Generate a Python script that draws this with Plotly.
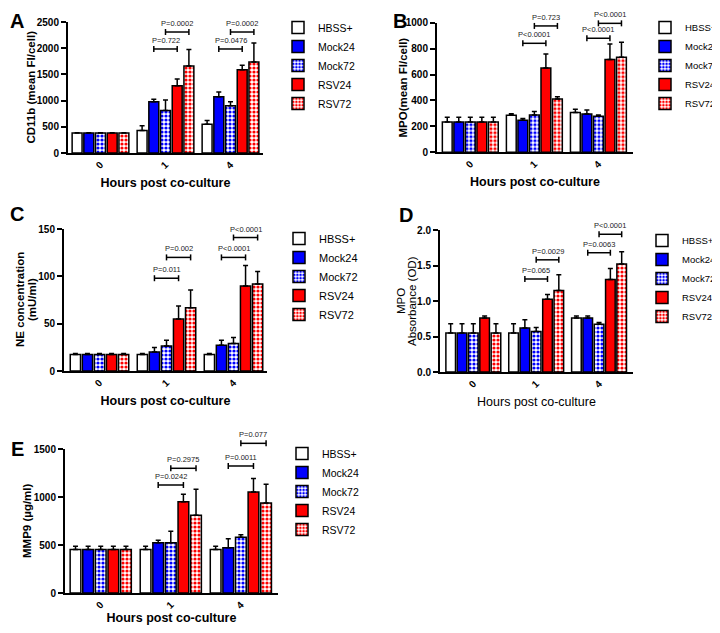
import plotly.graph_objects as go

# The page body adds an 8px margin, so the figure is 8px smaller and all
# reference pixel positions are shifted by that offset.
OFF = 8
FW, FH = 720 - OFF, 633 - OFF

# ---------------- data ----------------
GROUPS = ["0", "1", "4"]
SERIES = ["HBSS+", "Mock24", "Mock72", "RSV24", "RSV72"]

# Panel A: CD11b (mean FI/cell); rows follow SERIES, columns follow GROUPS
A_MEAN = [[380, 430, 550], [380, 980, 1075], [380, 810, 900], [380, 1285, 1590], [380, 1658, 1737]]
A_ERR = [[8, 90, 70], [8, 45, 90], [8, 200, 80], [8, 125, 87], [8, 317, 363]]
A_P = ["P=0.722", "P=0.0002", "P=0.0476", "P=0.0002"]
A_LEVELS = [1985, 2309, 1985, 2309]

# Panel B: MPO (mean FI/cell)
B_MEAN = [[234, 285, 308], [234, 247, 296], [234, 288, 278], [234, 650, 717], [234, 411, 733]]
B_ERR = [[36, 13, 24], [36, 13, 30], [36, 26, 10], [36, 108, 118], [36, 18, 116]]
B_P = ["P<0.0001", "P=0.723", "P<0.0001", "P<0.0001"]
B_LEVELS = [841, 975, 880, 995]

# Panel C: NE concentration (mU/ml)
C_MEAN = [[17.3, 17.3, 17.3], [17.3, 20.2, 27.2], [17.3, 26.5, 29.0], [17.3, 54.8, 89.8], [17.3, 66.9, 92.0]]
C_ERR = [[1.2, 1.1, 1.1], [1.2, 4.6, 5.3], [1.2, 6.0, 6.4], [1.2, 13.8, 21.6], [1.2, 18.7, 13.0]]
C_P = ["P=0.011", "P=0.002", "P<0.0001", "P<0.0001"]
C_LEVELS = [98, 120, 120, 141]

# Panel D: MPO absorbance (OD)
D_MEAN = [[0.548, 0.548, 0.759], [0.548, 0.618, 0.759], [0.548, 0.571, 0.674], [0.759, 1.026, 1.302], [0.548, 1.148, 1.521]]
D_ERR = [[0.13, 0.13, 0.028], [0.13, 0.117, 0.028], [0.13, 0.057, 0.024], [0.031, 0.065, 0.155], [0.13, 0.22, 0.173]]
D_P = ["P=0.065", "P=0.0029", "P=0.0063", "P<0.0001"]
D_LEVELS = [1.31, 1.58, 1.68, 1.94]

# Panel E: MMP9 (ug/ml)
E_MEAN = [[452, 452, 452], [452, 524, 472], [452, 524, 580], [452, 951, 1052], [452, 809, 938]]
E_ERR = [[34, 34, 34], [34, 25, 94], [34, 118, 28], [34, 77, 140], [34, 271, 194]]
E_P = ["P=0.0242", "P=0.2975", "P=0.0011", "P=0.077"]
E_LEVELS = [1125, 1299, 1323, 1559]

# ---------------- styles ----------------
FILL = ["white", "#0000FF", "#0000FF", "#FF0000", "#FF0000"]
PATTERN = ["", "", ".", "", "."]
FONT = "Liberation Sans, Arial, sans-serif"
BARGAP = 0.1

panels = [
    dict(letter="A", mean=A_MEAN, err=A_ERR, p=A_P, lv=A_LEVELS,
         ytitle=["CD11b (mean FI/cell)"], ytx=[31], xstand=8,
         ymax=2500, dtick=500, fmt="", xpx=(68, 263), ypx=(22, 153), xr=(-0.5, 2.5),
         letter_pos=(8, 10), leg=(278, 13), legfs=10.5, tbold=True),
    dict(letter="B", mean=B_MEAN, err=B_ERR, p=B_P, lv=B_LEVELS,
         ytitle=["MPO(mean FI/cell)"], ytx=[403], xstand=8,
         ymax=1000, dtick=200, fmt="", xpx=(437, 633), ypx=(22.7, 152.3), xr=(-0.52, 2.54),
         letter_pos=(400, 10), leg=(645, 13), legfs=9.5, tbold=True),
    dict(letter="C", mean=C_MEAN, err=C_ERR, p=C_P, lv=C_LEVELS,
         ytitle=["NE concentration", "(mU/ml)"], ytx=[20, 32], xstand=8,
         ymax=150, dtick=50, fmt="", xpx=(64, 267), ypx=(229, 371), xr=(-0.53, 2.5),
         letter_pos=(7, 214), leg=(279, 224), legfs=11, tbold=True),
    dict(letter="D", mean=D_MEAN, err=D_ERR, p=D_P, lv=D_LEVELS,
         ytitle=["MPO", "Absorbance (OD)"], ytx=[401, 412], xstand=8,
         ymax=2.0, dtick=0.5, fmt=".1f", xpx=(440, 633), ypx=(230, 372), xr=(-0.53, 2.54),
         letter_pos=(406, 215), leg=(642, 226), legfs=9.5, tbold=False),
    dict(letter="E", mean=E_MEAN, err=E_ERR, p=E_P, lv=E_LEVELS,
         ytitle=["MMP9 (\u00b5g/ml)"], ytx=[27], xstand=3,
         ymax=1500, dtick=500, fmt="", xpx=(65, 278), ypx=(449, 593), xr=(-0.51, 2.53),
         letter_pos=(6, 449), leg=(282, 439), legfs=10.5, tbold=True),
]


def pxx(p):
    return (p - OFF) / FW


def pxy(p):
    return 1 - (p - OFF) / FH


fig = go.Figure()
shapes = []
annotations = []
layout_axes = {}
legends = {}

step = (1 - BARGAP) / len(SERIES)


def bar_center(g, i):
    return g + (i - (len(SERIES) - 1) / 2) * step


for k, pn in enumerate(panels):
    sfx = "" if k == 0 else str(k + 1)
    xa, ya = "x" + sfx, "y" + sfx
    lg = "legend" + sfx
    xd = [pxx(pn["xpx"][0]), pxx(pn["xpx"][1])]
    yd = [pxy(pn["ypx"][1]), pxy(pn["ypx"][0])]

    for i, name in enumerate(SERIES):
        marker = dict(color=FILL[i], line=dict(color="black", width=1.5))
        if PATTERN[i]:
            marker["pattern"] = dict(shape=PATTERN[i], fgcolor=FILL[i], bgcolor="white",
                                     size=4, solidity=0.5, fillmode="replace")
        fig.add_trace(go.Bar(
            x=list(range(len(GROUPS))), y=pn["mean"][i], name=name, marker=marker,
            error_y=dict(type="data", array=pn["err"][i], arrayminus=[0] * len(GROUPS),
                         symmetric=False, color="black", thickness=1.5, width=2.5),
            xaxis=xa, yaxis=ya, legend=lg, showlegend=True,
        ))

    weight = "bold" if pn["tbold"] else "normal"
    layout_axes["xaxis" + sfx] = dict(
        domain=xd, range=list(pn["xr"]), anchor=ya, tickvals=list(range(len(GROUPS))),
        ticktext=GROUPS, tickangle=-45, showline=True, linecolor="black", linewidth=2,
        ticks="", showgrid=False, zeroline=False, automargin=False,
        tickfont=dict(family=FONT, size=10, color="black", weight="bold"),
        title=dict(text="Hours post co-culture", standoff=pn["xstand"],
                   font=dict(family=FONT, size=12.5, color="black", weight=weight)),
    )
    layout_axes["yaxis" + sfx] = dict(
        domain=yd, range=[0, pn["ymax"]], anchor=xa, dtick=pn["dtick"], tickformat=pn["fmt"],
        showline=True, linecolor="black", linewidth=2, ticks="outside", ticklen=5, tickwidth=2,
        tickcolor="black", showgrid=False, zeroline=False, automargin=False,
        tickfont=dict(family=FONT, size=10, color="black", weight="bold"),
    )

    # y-axis title lines (rotated text)
    ymid = (yd[0] + yd[1]) / 2
    for line, xc in zip(pn["ytitle"], pn["ytx"]):
        annotations.append(dict(text=line, x=pxx(xc), y=ymid, xref="paper", yref="paper",
                                textangle=-90, showarrow=False, xanchor="center", yanchor="middle",
                                font=dict(family=FONT, size=11.5, color="black", weight=weight)))

    legends[lg] = dict(x=pxx(pn["leg"][0]), y=pxy(pn["leg"][1]), xanchor="left", yanchor="top",
                       bgcolor="rgba(0,0,0,0)",
                       font=dict(family=FONT, size=pn["legfs"], color="black"),
                       tracegroupgap=0, itemclick=False, itemdoubleclick=False)

    # panel letter (kept fully inside the figure)
    lx = max(pn["letter_pos"][0] - OFF, 9) / FW
    ly = 1 - max(pn["letter_pos"][1] - OFF, 13) / FH
    annotations.append(dict(text="<b>%s</b>" % pn["letter"], x=lx, y=ly,
                            xref="paper", yref="paper", xanchor="center", yanchor="middle",
                            showarrow=False, font=dict(family=FONT, size=20, color="black")))

    # significance brackets: (Mock24 vs RSV24) lower, (Mock72 vs RSV72) upper, for groups 1 and 4
    def to_paper(xv, yv):
        px = xd[0] + (xv - pn["xr"][0]) / (pn["xr"][1] - pn["xr"][0]) * (xd[1] - xd[0])
        py = yd[0] + yv / pn["ymax"] * (yd[1] - yd[0])
        return px, py

    pairs = [(1, 1, 3), (1, 2, 4), (2, 1, 3), (2, 2, 4)]
    for j, (g, a, b) in enumerate(pairs):
        x0, yy = to_paper(bar_center(g, a), pn["lv"][j])
        x1, _ = to_paper(bar_center(g, b), pn["lv"][j])
        shapes.append(dict(type="line", xref="paper", yref="paper", x0=x0, x1=x1, y0=yy, y1=yy,
                           line=dict(color="black", width=1.5)))
        for xe in (x0, x1):
            shapes.append(dict(type="line", xref="paper", yref="paper", ysizemode="pixel",
                               yanchor=yy, x0=xe, x1=xe, y0=-3, y1=3,
                               line=dict(color="black", width=1.5)))
        annotations.append(dict(text=pn["p"][j], x=(x0 + x1) / 2, y=yy, yshift=2,
                                xref="paper", yref="paper", xanchor="center", yanchor="bottom",
                                showarrow=False, font=dict(family=FONT, size=7.5, color="#222")))

fig.update_layout(
    width=FW, height=FH, margin=dict(l=0, r=0, t=0, b=0, autoexpand=False),
    paper_bgcolor="white", plot_bgcolor="white",
    barmode="group", bargap=BARGAP, bargroupgap=0.15,
    shapes=shapes, annotations=annotations, **layout_axes, **legends,
)

fig.write_html("out.html")
